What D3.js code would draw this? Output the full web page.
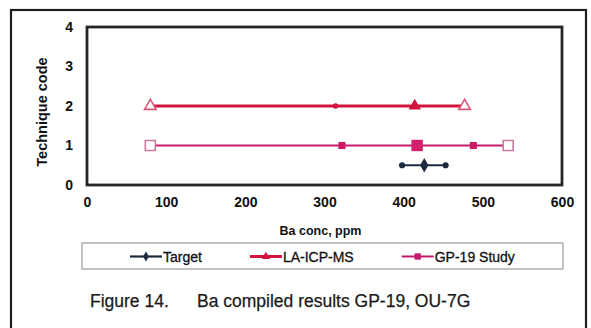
<!DOCTYPE html>
<html>
<head>
<meta charset="utf-8">
<script src="https://cdn.jsdelivr.net/npm/d3@7"></script>
<style>
  html, body { margin: 0; padding: 0; background: #fff; }
  svg { display: block; font-family: "Liberation Sans", Arial, sans-serif; }
</style>
</head>
<body>
<svg id="chart" width="591" height="328"></svg>
<script>
// Axis ticks
const xTicks = [0, 100, 200, 300, 400, 500, 600];
const yTicks = [0, 1, 2, 3, 4];

// Series
const seriesNames = ["Target", "LA-ICP-MS", "GP-19 Study"];
const techniqueCodes = [0.5, 2, 1];

// Ba concentrations (ppm) per series, with the role of each point
const targetValues = [398, 426, 453];
const targetRoles = ["low", "mean", "high"];
const laIcpMsValues = [80, 314, 414, 477];
const laIcpMsRoles = ["min", "low", "mean", "max"];
const gp19Values = [80, 322, 417, 488, 532];
const gp19Roles = ["min", "low", "mean", "high", "max"];

const xTitle = "Ba conc, ppm";
const yTitle = "Technique code";
const captionLabel = "Figure 14.";
const captionText = "Ba compiled results GP-19, OU-7G";

// ---- layout ----
const plot = { left: 87, right: 562, top: 27, bottom: 185 };

const svg = d3.select("#chart");

const x = d3.scaleLinear().domain([0, 600]).range([plot.left, plot.right]);
const y = d3.scaleLinear().domain([0, 4]).range([plot.bottom, plot.top]);

// outer figure frame (bottom edge falls below the page)
svg.append("rect")
  .attr("x", 11).attr("y", 10)
  .attr("width", 575).attr("height", 340)
  .attr("fill", "none").attr("stroke", "#1e1e1e").attr("stroke-width", 2.2);

// series styling
const style = {
  "Target":      { color: "#1b2a3d", width: 2.2 },
  "LA-ICP-MS":   { color: "#d3143e", width: 3.0 },
  "GP-19 Study": { color: "#c41c6c", width: 2.2 }
};

// marker look per role and series
function markerFor(name, role) {
  const s = style[name];
  if (name === "Target") {
    if (role === "mean") return { type: d3.symbolDiamond, size: 60, fill: s.color, stroke: "none" };
    return { type: d3.symbolCircle, size: 30, fill: s.color, stroke: "none" };
  }
  if (name === "LA-ICP-MS") {
    if (role === "mean") return { type: d3.symbolTriangle, size: 66, fill: s.color, stroke: "none" };
    if (role === "low") return { type: d3.symbolCircle, size: 24, fill: s.color, stroke: "none" };
    return { type: d3.symbolTriangle, size: 58, fill: "#fff", stroke: "#d9587a" };
  }
  if (role === "mean") return { type: d3.symbolSquare, size: 130, fill: "#d0206e", stroke: "none" };
  if (role === "low" || role === "high") return { type: d3.symbolSquare, size: 50, fill: "#cc1a66", stroke: "none" };
  return { type: d3.symbolSquare, size: 100, fill: "#fff", stroke: "#c97aa0" };
}

const series = [
  { name: "GP-19 Study", code: techniqueCodes[2], values: gp19Values, roles: gp19Roles },
  { name: "LA-ICP-MS",   code: techniqueCodes[1], values: laIcpMsValues, roles: laIcpMsRoles },
  { name: "Target",      code: techniqueCodes[0], values: targetValues, roles: targetRoles }
];

const line = d3.line().x(d => x(d.v)).y(d => y(d.c));

const gSeries = svg.append("g");
series.forEach(s => {
  const pts = s.values.map((v, i) => ({ v, c: s.code, role: s.roles[i] }));
  const st = style[s.name];
  gSeries.append("path")
    .attr("d", line(pts))
    .attr("fill", "none")
    .attr("stroke", st.color)
    .attr("stroke-width", st.width);
  gSeries.selectAll(null)
    .data(pts)
    .join("path")
    .attr("transform", d => `translate(${x(d.v)},${y(d.c)})`)
    .attr("d", d => { const m = markerFor(s.name, d.role); return d3.symbol(m.type, m.size)(); })
    .attr("fill", d => markerFor(s.name, d.role).fill)
    .attr("stroke", d => markerFor(s.name, d.role).stroke)
    .attr("stroke-width", 1.6);
});

// plot-area frame
svg.append("rect")
  .attr("x", plot.left).attr("y", plot.top)
  .attr("width", plot.right - plot.left).attr("height", plot.bottom - plot.top)
  .attr("fill", "none").attr("stroke", "#262626").attr("stroke-width", 2.8);

// axes (labels only, no tick marks)
const xAxis = d3.axisBottom(x).tickValues(xTicks).tickSize(0).tickPadding(12).tickFormat(d3.format("d"));
const gx = svg.append("g").attr("transform", `translate(0,${plot.bottom})`).call(xAxis);
gx.select(".domain").remove();
gx.selectAll("text")
  .attr("font-family", '"Liberation Sans", Arial, sans-serif')
  .attr("font-size", 14).attr("font-weight", "bold").attr("fill", "#111");

const yAxis = d3.axisLeft(y).tickValues(yTicks).tickSize(0).tickPadding(14).tickFormat(d3.format("d"));
const gy = svg.append("g").attr("transform", `translate(${plot.left},0)`).call(yAxis);
gy.select(".domain").remove();
gy.selectAll("text")
  .attr("font-family", '"Liberation Sans", Arial, sans-serif')
  .attr("font-size", 14).attr("font-weight", "bold").attr("fill", "#111");

// axis titles
svg.append("text")
  .attr("x", (plot.left + plot.right) / 2 - 4).attr("y", 235)
  .attr("text-anchor", "middle")
  .attr("font-size", 12.5).attr("font-weight", "bold").attr("fill", "#111")
  .text(xTitle);

svg.append("text")
  .attr("transform", "translate(47,112) rotate(-90)")
  .attr("text-anchor", "middle")
  .attr("font-size", 14.5).attr("font-weight", "bold").attr("fill", "#111")
  .text(yTitle);

// legend
svg.append("rect")
  .attr("x", 82).attr("y", 243).attr("width", 481).attr("height", 26)
  .attr("fill", "#fff").attr("stroke", "#a8a8a8").attr("stroke-width", 1.4);

let lx = 130;
seriesNames.forEach(name => {
  const st = style[name];
  const g = svg.append("g").attr("transform", `translate(${lx},256.5)`);
  g.append("line").attr("x1", 0).attr("x2", 32).attr("y1", 0).attr("y2", 0)
    .attr("stroke", st.color).attr("stroke-width", st.width);
  const m = name === "Target" ? { type: d3.symbolDiamond, size: 30 }
          : name === "LA-ICP-MS" ? { type: d3.symbolTriangle, size: 30 }
          : { type: d3.symbolSquare, size: 40 };
  g.append("path").attr("transform", "translate(16,0)")
    .attr("d", d3.symbol(m.type, m.size)())
    .attr("fill", st.color);
  const t = g.append("text").attr("x", 33).attr("y", 5.5)
    .attr("font-size", 14).attr("fill", "#111")
    .attr("stroke", "#111").attr("stroke-width", 0.3)
    .text(name);
  lx += 33 + t.node().getComputedTextLength() + 48;
});

// caption
svg.append("text").attr("x", 90).attr("y", 306.5)
  .attr("font-size", 17.5).attr("fill", "#1a1a1a")
  .attr("stroke", "#1a1a1a").attr("stroke-width", 0.25)
  .text(captionLabel);
svg.append("text").attr("x", 197).attr("y", 306.5)
  .attr("font-size", 17.5).attr("fill", "#1a1a1a")
  .attr("stroke", "#1a1a1a").attr("stroke-width", 0.25)
  .text(captionText);
</script>
</body>
</html>
